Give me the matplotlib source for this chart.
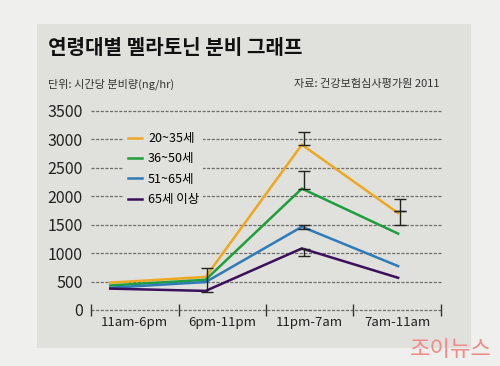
import numpy as np
import matplotlib
matplotlib.use("Agg")
import matplotlib.pyplot as plt
from matplotlib.patches import Rectangle

plt.rcParams['font.family'] = ['Noto Sans CJK KR', 'DejaVu Sans']

# ================= DATA ===================
periods = ["11am-6pm", "6pm-11pm", "11pm-7am", "7am-11am"]
groups = ["20~35세", "36~50세", "51~65세", "65세 이상"]
age_20_35 = [480, 580, 2900, 1700]
age_36_50 = [430, 530, 2130, 1340]
age_51_65 = [390, 490, 1460, 770]
age_65_up = [375, 335, 1080, 565]

# error bar segments: period index, base value, minus, plus
err_idx = [1, 2, 2, 2, 2, 3, 3]
err_base = [320, 2900, 2120, 1460, 1070, 1730, 1730]
err_minus = [0, 0, 0, 40, 125, 230, 0]
err_plus = [410, 215, 310, 40, 0, 0, 210]

# ================= STYLE ===================
point_x = [0.22, 1.31, 2.41, 3.51]   # where each period's point sits on the axis
colors = ["#eea820", "#1f9e3c", "#2f7ab8", "#3a0f5c"]
panel_col = "#e0e0dc"

fig = plt.figure(figsize=(5, 3.66), dpi=100)
fig.patch.set_facecolor("#efefed")
fig.patches.append(Rectangle((37 / 500, 1 - 348 / 366), 434 / 500, 324 / 366,
                             transform=fig.transFigure, facecolor=panel_col,
                             edgecolor="none", zorder=-5))

fig.text(48 / 500, 1 - 48 / 366, "연령대별 멜라토닌 분비 그래프", fontsize=14.5,
         fontweight="bold", va="center", ha="left", color="#111111")
fig.text(48 / 500, 1 - 84 / 366, "단위: 시간당 분비량(ng/hr)", fontsize=8,
         va="center", ha="left", color="#333333")
fig.text(440 / 500, 1 - 84 / 366, "자료: 건강보험심사평가원 2011", fontsize=8,
         va="center", ha="right", color="#333333")
fig.text(492 / 500, 1 - 350 / 366, "조이뉴스", fontsize=16, va="center",
         ha="right", color="#f28a8a", fontweight="light")

ax = fig.add_axes([91 / 500, 1 - 310 / 366, 350 / 500, 199.5 / 366])
ax.set_facecolor("none")
ax.set_xlim(0, 4)
ax.set_ylim(0, 3500)
for s in ax.spines.values():
    s.set_visible(False)

for v in np.arange(0, 3501, 500):
    ax.axhline(v, color="#6e6e6e", lw=0.9, ls=(0, (2.5, 1.2)), zorder=1,
               clip_on=False)

# x boundaries as little tick marks
ax.set_xticks([0, 1, 2, 3, 4])
ax.set_xticklabels([])
ax.tick_params(axis="x", which="major", direction="inout", length=8,
               width=1, color="#333333")
ax.set_xticks([0.5, 1.5, 2.5, 3.5], minor=True)
ax.set_xticklabels(periods, minor=True, fontsize=9.5, color="#222222")
ax.tick_params(axis="x", which="minor", length=0, pad=4)

ax.set_yticks(np.arange(0, 3501, 500))
ax.set_yticklabels([str(v) for v in range(0, 3501, 500)], fontsize=11.5,
                   color="#222222")
ax.tick_params(axis="y", length=0, pad=6)

series = [age_20_35, age_36_50, age_51_65, age_65_up]
for vals, col, name in zip(series, colors, groups):
    ax.plot(point_x, vals, color=col, lw=1.8, label=name, zorder=3,
            solid_joinstyle="miter")

ex = [point_x[i] + 0.02 for i in err_idx]
ax.errorbar(ex, err_base, yerr=[err_minus, err_plus], fmt="none",
            ecolor="#222222", elinewidth=1, capsize=4, capthick=1, zorder=4)

leg = ax.legend(loc="upper left", bbox_to_anchor=(0.095, 0.91), frameon=True,
                fontsize=9, handlelength=1.1, handletextpad=0.5,
                labelspacing=0.58, borderpad=0.3, borderaxespad=0)
leg.get_frame().set_facecolor(panel_col)
leg.get_frame().set_edgecolor("none")
leg.get_frame().set_alpha(1)

fig.savefig("out.png", dpi=100, facecolor=fig.get_facecolor())
